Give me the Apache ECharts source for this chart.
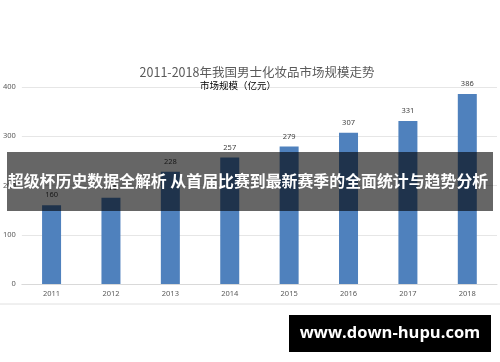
<!DOCTYPE html>
<html>
<head>
<meta charset="utf-8">
<script src="https://cdn.jsdelivr.net/npm/echarts@6/dist/echarts.min.js"></script>
<style>
html,body{margin:0;padding:0;background:#fff;}
#c{width:500px;height:362px;}
</style>
</head>
<body>
<div id="c"></div>
<script>
const categories = ['2011','2012','2013','2014','2015','2016','2017','2018'];
const marketSize = [160, 175, 228, 257, 279, 307, 331, 386];
const yTicks = [0, 100, 200, 300, 400];
const titleText = '2011-2018年我国男士化妆品市场规模走势';
const seriesName = '市场规模（亿元）';
const bannerText = '超级杯历史数据全解析 从首届比赛到最新赛季的全面统计与趋势分析';
const watermarkText = 'www.down-hupu.com';

const chart = echarts.init(document.getElementById('c'));
chart.setOption({
  animation: false,
  backgroundColor: '#fff',
  title: [{
    text: titleText,
    left: 252, top: 61, textAlign: 'center',
    textStyle: {fontSize: 12.5, fontWeight: 'normal', color: '#595959', fontFamily: 'Noto Sans CJK SC'}
  }, {
    text: seriesName,
    left: 233, top: 76, textAlign: 'center',
    textStyle: {fontSize: 9.5, fontWeight: 'normal', color: '#000', fontFamily: 'Noto Sans CJK SC'}
  }],
  grid: {left: 21, top: 87, width: 476, height: 197, containLabel: false},
  xAxis: {
    type: 'category', data: categories,
    axisLine: {lineStyle: {color: '#d9d9d9'}},
    axisTick: {show: false},
    axisLabel: {fontSize: 7.5, color: '#595959', margin: 6, fontFamily: 'Noto Sans'}
  },
  yAxis: {
    type: 'value', min: yTicks[0], max: yTicks[yTicks.length-1], interval: 100,
    axisLine: {show: false}, axisTick: {show: false},
    splitLine: {lineStyle: {color: '#e6e6e6'}},
    axisLabel: {fontSize: 7.5, color: '#595959', margin: 6, fontFamily: 'Noto Sans'}
  },
  series: [{
    type: 'bar', name: seriesName, data: marketSize, barWidth: 19,
    itemStyle: {color: '#4f81bd'},
    label: {show: true, position: 'top', fontSize: 7.5, color: '#404040', distance: 6, fontFamily: 'Noto Sans'}
  }],
  graphic: [
    {type: 'line', shape: {x1: 0, y1: 304, x2: 500, y2: 304}, style: {stroke: '#e0e0e0', lineWidth: 1}, z: 50},
    {type: 'rect', shape: {x: 7, y: 152, width: 486, height: 59}, style: {fill: 'rgba(0,0,0,0.6)'}, z: 100},
    {type: 'text', x: 248, y: 181, z: 101,
     style: {text: bannerText, fill: '#fff', font: 'bold 15.9px "Noto Sans CJK SC"', textAlign: 'center', textVerticalAlign: 'middle'}},
    {type: 'rect', shape: {x: 289, y: 315, width: 202, height: 37}, style: {fill: '#000'}, z: 100},
    {type: 'text', x: 390, y: 333.5, z: 101,
     style: {text: watermarkText, fill: '#fff', font: 'bold 16.5px "Open Sans"', textAlign: 'center', textVerticalAlign: 'middle'}}
  ]
});
</script>
</body>
</html>
